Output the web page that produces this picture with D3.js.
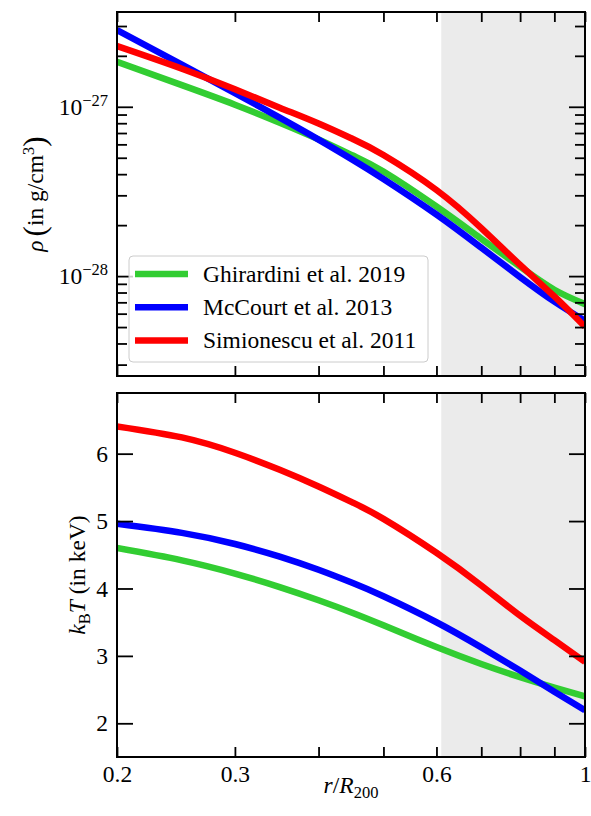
<!doctype html>
<html>
<head>
<script src="https://cdnjs.cloudflare.com/ajax/libs/d3/7.8.5/d3.min.js"></script>
<style>
  body { margin: 0; background: #fff; }
  svg text { font-family: "Liberation Serif", "DejaVu Serif", serif; }
  path.domain { stroke: none; }
  .tick line { stroke: #000; stroke-width: 1.8; }
  .tick text { fill: #000; font-size: 23.5px; }
  .curve { fill: none; stroke-width: 6.5; }
  .label { font-size: 23.5px; fill: #000; }
</style>
</head>
<body>
<svg id="chart" width="591" height="816"></svg>
<script>
// radius in units of R200
var radius = [0.2, 0.25, 0.3, 0.35, 0.4, 0.45, 0.5, 0.6, 0.7, 0.8, 0.9, 1.0];

// density in g/cm^3
var rhoGhirardini = [1.844e-27, 1.342e-27, 1.029e-27, 8.05e-28, 6.42e-28, 5.16e-28, 4.15e-28, 2.577e-28, 1.661e-28, 1.136e-28, 8.30e-29, 6.83e-29];
var rhoMcCourt    = [2.838e-27, 1.777e-27, 1.206e-27, 8.62e-28, 6.40e-28, 4.86e-28, 3.75e-28, 2.312e-28, 1.472e-28, 9.87e-29, 7.07e-29, 5.45e-29];
var rhoSimionescu = [2.284e-27, 1.679e-27, 1.269e-27, 9.88e-28, 7.96e-28, 6.45e-28, 5.19e-28, 3.225e-28, 1.92e-28, 1.164e-28, 7.58e-29, 5.02e-29];

// temperature in keV
var kTGhirardini = [4.600, 4.417, 4.221, 4.021, 3.825, 3.637, 3.454, 3.132, 2.880, 2.684, 2.528, 2.398];
var kTMcCourt    = [4.960, 4.825, 4.660, 4.473, 4.277, 4.080, 3.884, 3.499, 3.126, 2.782, 2.469, 2.193];
var kTSimionescu = [6.405, 6.241, 6.014, 5.761, 5.513, 5.274, 5.033, 4.530, 4.045, 3.596, 3.233, 2.911];

var seriesNames = ["Ghirardini et al. 2019", "McCourt et al. 2013", "Simionescu et al. 2011"];
var seriesColors = ["#32cd32", "#0000ff", "#ff0000"];

var shadeRange = [0.61, 1.0];
var xTicksLabelled = [0.2, 0.3, 0.6, 1];
var xTicksMinor = [0.4, 0.5, 0.7, 0.8, 0.9];
var rhoMajor = [1e-28, 1e-27];
var rhoMinor = [3e-29, 4e-29, 5e-29, 6e-29, 7e-29, 8e-29, 9e-29,
                2e-28, 3e-28, 4e-28, 5e-28, 6e-28, 7e-28, 8e-28, 9e-28, 2e-27, 3e-27];
var kTTicks = [2, 3, 4, 5, 6];

var svg = d3.select("#chart");
var left = 117, right = 585;

var x = d3.scaleLog().domain([0.2, 1]).range([left, right]);
var yRho = d3.scaleLog().domain([2.57e-29, 3.63e-27]).range([376, 12]);
var yT = d3.scaleLinear().domain([1.5, 6.9]).range([757, 393]);

function panel(id, y, data, top, bottom) {
  var g = svg.append("g").attr("id", id);
  g.append("clipPath").attr("id", id + "Clip")
    .append("rect").attr("x", left).attr("y", top).attr("width", right - left).attr("height", bottom - top);

  g.append("rect")
    .attr("x", x(shadeRange[0])).attr("y", top)
    .attr("width", x(shadeRange[1]) - x(shadeRange[0])).attr("height", bottom - top)
    .attr("fill", "#ebebeb");

  var line = d3.line()
    .x(function (d) { return x(d[0]); })
    .y(function (d) { return y(d[1]); })
    .curve(d3.curveNatural);

  var lines = g.append("g").attr("clip-path", "url(#" + id + "Clip)");
  data.forEach(function (vals, i) {
    lines.append("path")
      .attr("class", "curve")
      .attr("stroke", seriesColors[i])
      .attr("d", line(radius.map(function (r, j) { return [r, vals[j]]; })));
  });
  return g;
}

function xTicks(g, top, bottom, labels) {
  var all = xTicksLabelled.concat(xTicksMinor);
  var fmt = function (d) { return labels && xTicksLabelled.indexOf(d) >= 0 ? String(d) : ""; };
  g.append("g").attr("transform", "translate(0," + bottom + ")")
    .call(d3.axisBottom(x).tickValues(all).tickSize(-10).tickPadding(8).tickFormat(fmt));
  g.append("g").attr("transform", "translate(0," + top + ")")
    .call(d3.axisTop(x).tickValues(all).tickSize(-10).tickFormat(""));
}

function frame(g, top, bottom) {
  g.append("rect").attr("x", left).attr("y", top)
    .attr("width", right - left).attr("height", bottom - top)
    .attr("fill", "none").attr("stroke", "#000").attr("stroke-width", 2);
}

// ---- top panel: density ----
var gTop = panel("rho", yRho, [rhoGhirardini, rhoMcCourt, rhoSimionescu], 12, 376);
xTicks(gTop, 12, 376, false);

var lAx = gTop.append("g").attr("transform", "translate(" + left + ",0)");
lAx.append("g").call(d3.axisLeft(yRho).tickValues(rhoMinor).tickSize(-10).tickFormat(""));
var lMajor = lAx.append("g").call(d3.axisLeft(yRho).tickValues(rhoMajor).tickSize(-16).tickPadding(9).tickFormat(""));
lMajor.selectAll(".tick text").each(function (d) {
  var t = d3.select(this).attr("dy", "0.32em");
  t.append("tspan").text("10");
  t.append("tspan").attr("dy", "-9").style("font-size", "16.5px")
    .text("\u2212" + Math.round(-Math.log10(d)));
});
var rAx = gTop.append("g").attr("transform", "translate(" + right + ",0)");
rAx.append("g").call(d3.axisRight(yRho).tickValues(rhoMinor).tickSize(-10).tickFormat(""));
rAx.append("g").call(d3.axisRight(yRho).tickValues(rhoMajor).tickSize(-16).tickFormat(""));

// legend
var leg = gTop.append("g").attr("transform", "translate(129,256)");
leg.append("rect").attr("width", 299).attr("height", 106).attr("rx", 4)
  .attr("fill", "#fff").attr("fill-opacity", 0.8)
  .attr("stroke", "#cccccc").attr("stroke-width", 1);
seriesNames.forEach(function (name, i) {
  var yy = 18 + i * 33.3;
  leg.append("line").attr("x1", 6).attr("x2", 59).attr("y1", yy).attr("y2", yy)
    .attr("stroke", seriesColors[i]).attr("stroke-width", 6.5);
  leg.append("text").attr("class", "label").attr("x", 74).attr("y", yy).attr("dy", "0.32em").text(name);
});

frame(gTop, 12, 376);

// y label top
var ylab1 = gTop.append("text").attr("class", "label")
  .attr("transform", "translate(43,194) rotate(-90)").attr("text-anchor", "middle");
ylab1.append("tspan").style("font-style", "italic").text("\u03c1");
ylab1.append("tspan").attr("dx", 4).style("font-size", "31px").attr("dy", 2).text("(");
ylab1.append("tspan").attr("dy", -2).text("in g/cm");
ylab1.append("tspan").attr("dy", -9).style("font-size", "16.5px").text("3");
ylab1.append("tspan").attr("dy", 11).style("font-size", "31px").text(")");

// ---- bottom panel: temperature ----
var gBot = panel("kT", yT, [kTGhirardini, kTMcCourt, kTSimionescu], 393, 757);
xTicks(gBot, 393, 757, true);
gBot.append("g").attr("transform", "translate(" + left + ",0)")
  .call(d3.axisLeft(yT).tickValues(kTTicks).tickSize(-16).tickPadding(9).tickFormat(d3.format("d")));
gBot.append("g").attr("transform", "translate(" + right + ",0)")
  .call(d3.axisRight(yT).tickValues(kTTicks).tickSize(-16).tickFormat(""));
frame(gBot, 393, 757);

var ylab2 = gBot.append("text").attr("class", "label")
  .attr("transform", "translate(85,575) rotate(-90)").attr("text-anchor", "middle");
ylab2.append("tspan").style("font-style", "italic").text("k");
ylab2.append("tspan").attr("dy", 5).style("font-size", "16.5px").text("B");
ylab2.append("tspan").attr("dy", -5).style("font-style", "italic").text("T");
ylab2.append("tspan").text(" (in keV)");

var xlab = svg.append("text").attr("class", "label")
  .attr("x", (left + right) / 2).attr("y", 793).attr("text-anchor", "middle");
xlab.append("tspan").style("font-style", "italic").text("r");
xlab.append("tspan").text("/");
xlab.append("tspan").style("font-style", "italic").text("R");
xlab.append("tspan").attr("dy", 5).style("font-size", "16.5px").text("200");
</script>
</body>
</html>
